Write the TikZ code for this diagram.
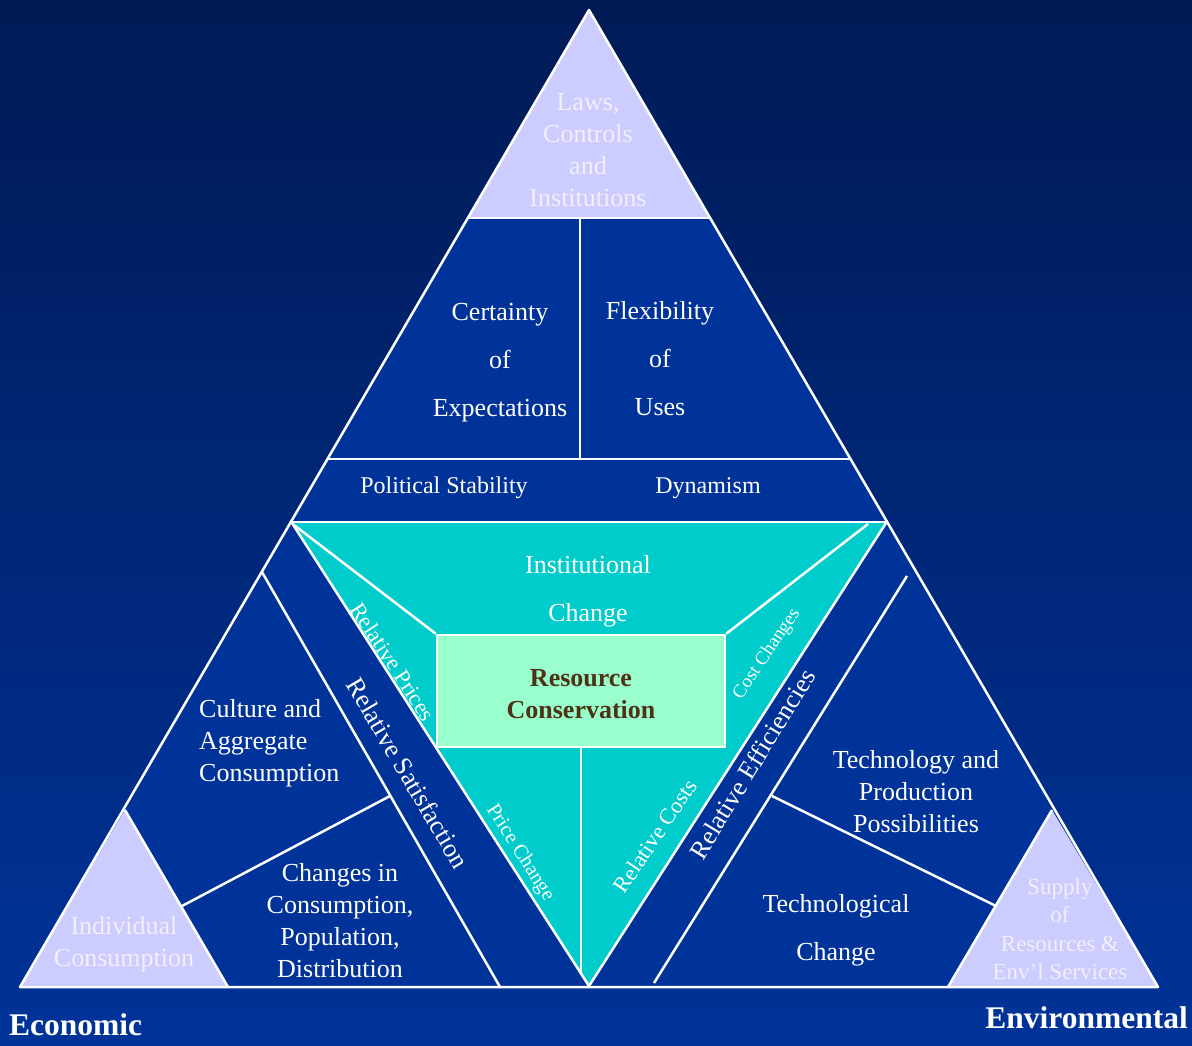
\documentclass[tikz,border=0pt]{standalone}
\usepackage{fontspec}
\setmainfont{Liberation Serif}
\definecolor{bgtop}{RGB}{0,26,85}
\definecolor{bgbot}{RGB}{0,51,153}
\definecolor{navy}{RGB}{0,51,153}
\definecolor{lav}{RGB}{204,204,255}
\definecolor{lavtext}{RGB}{240,240,255}
\definecolor{tealc}{RGB}{0,204,204}
\definecolor{mint}{RGB}{153,255,204}
\definecolor{brownc}{RGB}{77,50,22}
\tikzset{
  wline/.style={draw=white, line width=2.5pt},
  lbl/.style={text=white, align=center, inner sep=0pt, font=\fontsize{26}{32}\selectfont},
  lblwide/.style={lbl, font=\fontsize{26}{48}\selectfont},
  lavlbl/.style={text=lavtext, align=center, inner sep=0pt, font=\fontsize{26}{32}\selectfont},
  rotlbl/.style={text=white, inner sep=0pt},
  cornerlbl/.style={text=white, inner sep=0pt, font=\fontsize{31.5}{34}\selectfont\bfseries}
}
\begin{document}
\begin{tikzpicture}[x=1pt,y=-1pt,line join=round]
\shade[top color=bgtop, bottom color=bgbot] (0,0) rectangle (1192,1046);
\useasboundingbox (0,0) rectangle (1192,1046);

% fills
\fill[navy] (589,10) -- (20,987) -- (1158,987) -- cycle;
\fill[lav] (589,10) -- (468,218) -- (710,218) -- cycle;
\fill[tealc] (292,523) -- (886,523) -- (589,986) -- cycle;
\fill[lav] (125,810) -- (20,987) -- (228,987) -- cycle;
\fill[lav] (1052,810) -- (948,987) -- (1158,987) -- cycle;

% outline and partitions
\draw[wline] (20,987) -- (589,10) -- (1158,987) -- cycle;
\draw[wline] (468,218) -- (710,218);
\draw[wline] (580,218) -- (580,459);
\draw[wline] (327,459) -- (851,459);
\draw[wline] (291,522) -- (886,522);
\draw[wline] (886,523) -- (589,986) -- (292,523);
\draw[wline] (262,572) -- (500,987);
\draw[wline] (907,576) -- (654,983);
\draw[wline] (390,796) -- (182,906);
\draw[wline] (772,796) -- (996,906);
\draw[wline] (125,810) -- (228,987);
\draw[wline] (1052,810) -- (948,987);

% central box
\node[draw=white, line width=2.5pt, fill=mint, minimum width=288pt, minimum height=112pt, inner sep=0pt] (box) at (581,691) {};
\node[text=brownc, align=center, inner sep=0pt, font=\fontsize{26}{32}\selectfont\bfseries] (rc-text) at (581,694) {Resource\\Conservation};
\coordinate (tl) at (294,525);
\coordinate (tr) at (868,524);
\coordinate (vb) at (581,975);
\draw[wline] (tl) -- (box.north west);
\draw[wline] (tr) -- (box.north east);
\draw[wline] (box.south) -- (vb);

% texts
\node[lavlbl] (laws) at (588,150) {Laws,\\Controls\\and\\Institutions};
\node[lblwide] (cert) at (500,363) {Certainty\\of\\Expectations};
\node[lblwide] (flex) at (660,359) {Flexibility\\of\\Uses};
\node[lbl, font=\fontsize{24}{28}\selectfont] (pol) at (444,488) {Political Stability};
\node[lbl, font=\fontsize{24}{28}\selectfont] (dyn) at (708,488) {Dynamism};
\node[lblwide] (inst) at (588,591) {Institutional\\Change};
\node[lbl, align=left, anchor=west] (cult) at (199,743) {Culture and\\Aggregate\\Consumption};
\node[lbl] (chg) at (340,921) {Changes in\\Consumption,\\Population,\\Distribution};
\node[lavlbl] (ind) at (124,944) {Individual\\Consumption};
\node[lbl] (tech) at (916,792) {Technology and\\Production\\Possibilities};
\node[lblwide] (tchg) at (836,930) {Technological\\Change};
\node[lavlbl, font=\fontsize{23}{28.5}\selectfont] (sup) at (1060,929) {Supply\\of\\Resources \&\\Env'l Services};
\node[cornerlbl, anchor=west] (eco) at (9,1025) {Economic};
\node[cornerlbl, anchor=east] (env) at (1188,1018) {Environmental};

% rotated labels
\node[rotlbl, rotate=-57, font=\fontsize{22.5}{24}\selectfont] (rp) at (393,662) {Relative Prices};
\node[rotlbl, rotate=-59.5, font=\fontsize{26}{28}\selectfont] (rs) at (408,773) {Relative Satisfaction};
\node[rotlbl, rotate=-57.5, font=\fontsize{20.5}{22}\selectfont] (pc) at (520,853) {Price Change};
\node[rotlbl, rotate=56, font=\fontsize{22.5}{24}\selectfont] (rc) at (655,836) {Relative Costs};
\node[rotlbl, rotate=58.5, font=\fontsize{26}{28}\selectfont] (re) at (752,764) {Relative Efficiencies};
\node[rotlbl, rotate=56, font=\fontsize{19}{21}\selectfont] (cc) at (767,654) {Cost Changes};
\end{tikzpicture}
\end{document}
